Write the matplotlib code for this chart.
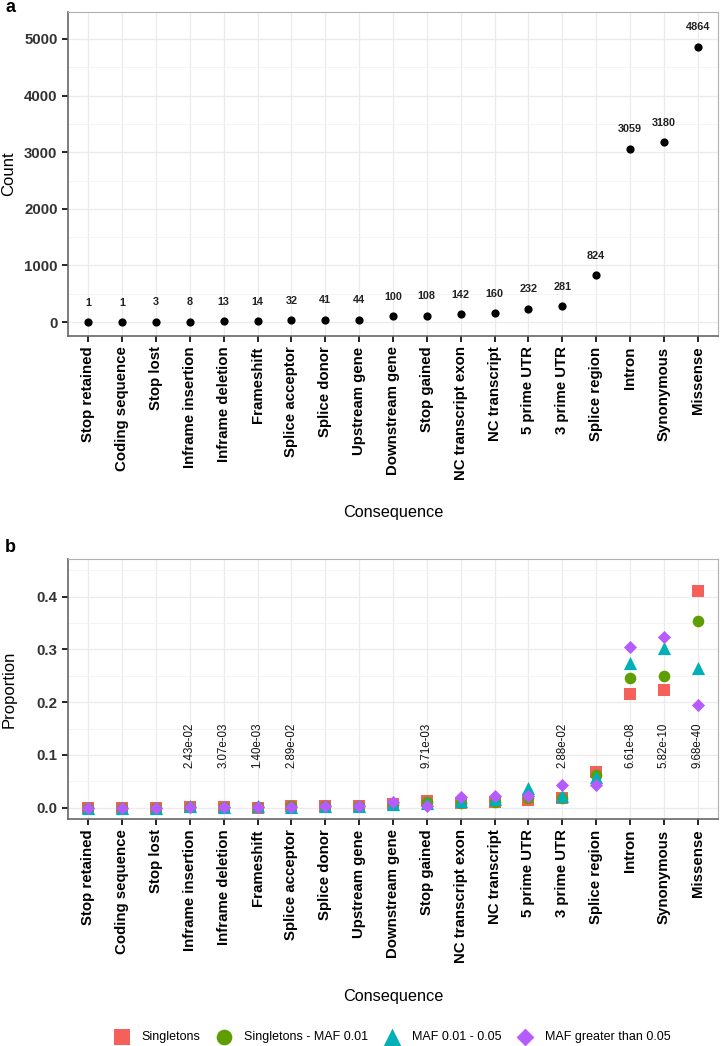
import matplotlib
matplotlib.use("Agg")
import matplotlib.pyplot as plt
from matplotlib.ticker import MultipleLocator, FormatStrFormatter

plt.rcParams['font.family'] = ['Liberation Sans', 'DejaVu Sans']

categories = ["Stop retained", "Coding sequence", "Stop lost", "Inframe insertion",
              "Inframe deletion", "Frameshift", "Splice acceptor", "Splice donor",
              "Upstream gene", "Downstream gene", "Stop gained", "NC transcript exon",
              "NC transcript", "5 prime UTR", "3 prime UTR", "Splice region",
              "Intron", "Synonymous", "Missense"]
counts = [1, 1, 3, 8, 13, 14, 32, 41, 44, 100, 108, 142, 160, 232, 281, 824, 3059, 3180, 4864]

series_names = ["Singletons", "Singletons - MAF 0.01", "MAF 0.01 - 0.05", "MAF greater than 0.05"]
singletons = [0.0002, 0.0002, 0.0003, 0.001, 0.002, 0.000, 0.004, 0.003, 0.003, 0.007,
              0.013, 0.008, 0.010, 0.014, 0.018, 0.067, 0.215, 0.223, 0.410]
singletons_maf001 = [0.0002, 0.0002, 0.0003, 0.001, 0.001, 0.001, 0.003, 0.003, 0.003, 0.007,
                     0.011, 0.009, 0.010, 0.018, 0.019, 0.062, 0.245, 0.250, 0.354]
maf001_005 = [0.0003, 0.0003, 0.0004, 0.004, 0.001, 0.003, 0.001, 0.004, 0.003, 0.007,
              0.008, 0.013, 0.016, 0.038, 0.022, 0.058, 0.274, 0.302, 0.265]
maf_gt005 = [0.0002, 0.0002, 0.0003, 0.001, 0.001, 0.001, 0.002, 0.003, 0.003, 0.010,
             0.004, 0.020, 0.023, 0.022, 0.043, 0.043, 0.305, 0.324, 0.195]
pvalues = ["", "", "", "2.43e-02", "3.07e-03", "1.40e-03", "2.89e-02", "", "", "",
           "9.71e-03", "", "", "", "2.88e-02", "", "6.61e-08", "5.82e-10", "9.68e-40"]

series = [singletons, singletons_maf001, maf001_005, maf_gt005]
colors = ['#F5605A', '#5E9E00', '#00B0B6', '#B65CFF']
markers = ['s', 'o', '^', 'D']
sizes = [70, 70, 90, 45]

x = list(range(1, len(categories) + 1))

fig = plt.figure(figsize=(7.21, 10.46), dpi=100)
W, H = 721, 1046
def rect(l, t, r, b):
    return [l / W, 1 - b / H, (r - l) / W, (b - t) / H]

ax1 = fig.add_axes(rect(68, 12, 718, 336))
ax2 = fig.add_axes(rect(68, 559, 718, 819))

def style(ax):
    ax.set_xlim(0.4, len(categories) + 0.6)
    ax.set_xticks(x)
    ax.set_xticklabels(categories, rotation=90, fontsize=11.8, fontweight='bold')
    ax.grid(True, which='major', color='#ebebeb', linewidth=0.9)
    ax.grid(True, which='minor', axis='y', color='#f3f3f3', linewidth=0.6)
    ax.set_axisbelow(True)
    for s in ['top', 'right']:
        ax.spines[s].set_color('#b0b0b0')
        ax.spines[s].set_linewidth(0.8)
    for s in ['left', 'bottom']:
        ax.spines[s].set_color('#666666')
        ax.spines[s].set_linewidth(1.2)
    ax.tick_params(axis='both', which='major', direction='out', length=4, width=1.2,
                   color='black', labelsize=10.8)
    ax.tick_params(axis='both', which='minor', length=0)
    for lab in ax.get_yticklabels():
        lab.set_fontweight('bold')
        lab.set_color('#333333')

# Panel a
ax1.scatter(x, counts, s=24, color='black', zorder=3)
for xi, c in zip(x, counts):
    ax1.annotate(str(c), (xi, c), xytext=(0, 14), textcoords='offset points',
                 ha='center', va='center', fontsize=7.8, fontweight='bold', color='#222222')
ax1.set_ylim(-247, 5477)
ax1.yaxis.set_major_locator(MultipleLocator(1000))
ax1.yaxis.set_minor_locator(MultipleLocator(500))
style(ax1)
ax1.set_ylabel("Count", fontsize=12, va='center')
ax1.set_xlabel("Consequence", fontsize=11.7, va='center')
ax1.yaxis.set_label_coords(-59 / 650, 0.5)
ax1.xaxis.set_label_coords(0.5, (336 - 512) / 324)

# Panel b
for name, vals, col, mk, sz in zip(series_names, series, colors, markers, sizes):
    ax2.scatter(x, vals, s=sz, color=col, marker=mk, label=name, zorder=3, linewidths=0)
for xi, p in zip(x, pvalues):
    if p:
        ax2.text(xi, 0.118, p, rotation=90, ha='center', va='center', fontsize=8.3,
                 color='#111111')
ax2.set_ylim(-0.0214, 0.4715)
ax2.yaxis.set_major_locator(MultipleLocator(0.1))
ax2.yaxis.set_minor_locator(MultipleLocator(0.05))
ax2.yaxis.set_major_formatter(FormatStrFormatter('%.1f'))
style(ax2)
ax2.set_ylabel("Proportion", fontsize=12, va='center')
ax2.set_xlabel("Consequence", fontsize=11.7, va='center')
ax2.yaxis.set_label_coords(-59 / 650, 0.5)
ax2.xaxis.set_label_coords(0.5, (819 - 997) / 260)

handles, labels = ax2.get_legend_handles_labels()
fig.legend(handles, labels, loc='center', ncol=4, frameon=False, fontsize=9,
           bbox_to_anchor=(390 / W, 1 - 1037 / H), handletextpad=0.6, columnspacing=0.9,
           markerscale=1.35)

fig.text(5 / W, 1 - 8 / H, "a", fontsize=13, fontweight='bold', va='center', ha='left')
fig.text(5 / W, 1 - 548 / H, "b", fontsize=13, fontweight='bold', va='center', ha='left')

fig.savefig("out.png", dpi=100)
